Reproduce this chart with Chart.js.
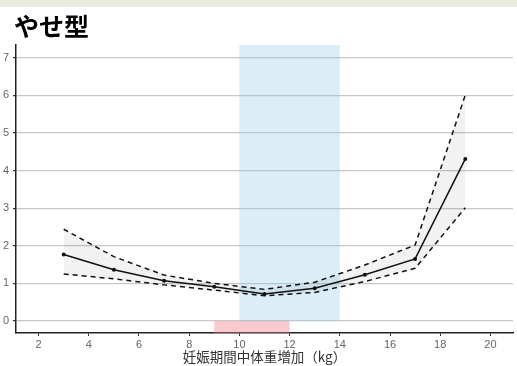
<!DOCTYPE html>
<html lang="ja">
<head>
<meta charset="utf-8">
<script src="https://cdn.jsdelivr.net/npm/chart.js@4"></script>
<style>
  html, body { margin: 0; padding: 0; background: #fff; }
  canvas { display: block; }
</style>
</head>
<body>
<canvas id="c" width="517" height="366"></canvas>
<script>
// Panel heading and axis label
const panelTitle = 'やせ型';
const xAxisLabel = '妊娠期間中体重増加（kg）';

// Gestational weight gain (kg) and estimated risk with its interval
const gainKg       = [3, 5, 7, 9, 11, 13, 15, 17, 19];
const riskEstimate = [1.77, 1.36, 1.07, 0.91, 0.72, 0.87, 1.23, 1.65, 4.31];
const riskUpper    = [2.44, 1.71, 1.22, 1.00, 0.84, 1.03, 1.49, 2.02, 6.01];
const riskLower    = [1.25, 1.12, 0.96, 0.82, 0.67, 0.76, 1.05, 1.40, 3.01];

// Shaded gain ranges (kg)
const recommendedRange = [10, 14];
const lowestRiskRange  = [9, 12];

// Axis ticks and limits
const xTicks  = [2, 4, 6, 8, 10, 12, 14, 16, 18, 20];
const yTicks  = [0, 1, 2, 3, 4, 5, 6, 7];
const xLimits = [1.1, 20.9];
const yLimits = [-0.32, 7.34];

const toPoints = ys => gainKg.map((g, i) => ({ x: g, y: ys[i] }));

// Page heading strip and title
const headerPlugin = {
  id: 'header',
  beforeDraw(chart) {
    const { ctx, width } = chart;
    ctx.save();
    ctx.fillStyle = '#ffffff';
    ctx.fillRect(0, 0, width, chart.height);
    ctx.fillStyle = '#e9eddf';
    ctx.fillRect(0, 0, width, 7);
    ctx.fillStyle = '#000000';
    ctx.font = 'bold 25px "Noto Sans CJK JP", sans-serif';
    ctx.textBaseline = 'middle';
    ctx.textAlign = 'left';
    ctx.fillText(panelTitle, 14, 26);
    ctx.restore();
  }
};

// Blue recommended-gain band and pink strip below zero
const bandPlugin = {
  id: 'bands',
  beforeDatasetsDraw(chart) {
    const { ctx, chartArea, scales: { x, y } } = chart;
    const y0 = y.getPixelForValue(0);
    ctx.save();
    ctx.fillStyle = 'rgba(135, 200, 230, 0.3)';
    let a = x.getPixelForValue(recommendedRange[0]);
    let b = x.getPixelForValue(recommendedRange[1]);
    ctx.fillRect(a, chartArea.top, b - a, y0 - chartArea.top);
    ctx.fillStyle = 'rgba(240, 128, 135, 0.42)';
    a = x.getPixelForValue(lowestRiskRange[0]);
    b = x.getPixelForValue(lowestRiskRange[1]);
    ctx.fillRect(a, y0, b - a, chartArea.bottom - y0);
    ctx.restore();
  }
};

const tickFont = { family: '"Liberation Sans", Arial, sans-serif', size: 11 };

new Chart(document.getElementById('c'), {
  type: 'line',
  data: {
    datasets: [
      {
        data: toPoints(riskEstimate),
        borderColor: '#111',
        borderWidth: 1.5,
        pointRadius: 2,
        pointBackgroundColor: '#111',
        pointBorderWidth: 0,
        fill: false,
        tension: 0
      },
      {
        data: toPoints(riskUpper),
        borderColor: '#111',
        borderWidth: 1.5,
        borderDash: [5, 4],
        pointRadius: 0,
        fill: false,
        tension: 0
      },
      {
        data: toPoints(riskLower),
        borderColor: '#111',
        borderWidth: 1.5,
        borderDash: [5, 4],
        pointRadius: 0,
        fill: { target: 1 },
        backgroundColor: 'rgba(0, 0, 0, 0.05)',
        tension: 0
      }
    ]
  },
  options: {
    responsive: false,
    animation: false,
    devicePixelRatio: 1,
    layout: { padding: { top: 45, left: 0, right: 4, bottom: 0 } },
    plugins: {
      legend: { display: false },
      tooltip: { enabled: false },
      title: { display: false }
    },
    scales: {
      x: {
        type: 'linear',
        min: xLimits[0],
        max: xLimits[1],
        afterBuildTicks: s => { s.ticks = xTicks.map(v => ({ value: v })); },
        afterFit: s => { s.height = 33; },
        grid: {
          drawOnChartArea: false,
          drawTicks: true,
          tickLength: 3,
          tickColor: '#333'
        },
        border: { display: true, color: '#222', width: 1.5 },
        ticks: { color: '#666', font: tickFont, padding: 2, maxRotation: 0 },
        title: {
          display: true,
          text: xAxisLabel,
          color: '#333',
          font: { family: '"Noto Sans CJK JP", sans-serif', size: 13.5 },
          padding: { top: 0, bottom: 1 }
        }
      },
      y: {
        type: 'linear',
        min: yLimits[0],
        max: yLimits[1],
        afterBuildTicks: s => { s.ticks = yTicks.map(v => ({ value: v })); },
        afterFit: s => { s.width = 16; },
        grid: {
          color: '#c8c8c8',
          lineWidth: 1.3,
          drawTicks: true,
          tickLength: 3,
          tickColor: '#333'
        },
        border: { display: true, color: '#222', width: 1.5 },
        ticks: { color: '#666', font: tickFont, padding: 4 }
      }
    }
  },
  plugins: [headerPlugin, bandPlugin]
});
</script>
</body>
</html>
